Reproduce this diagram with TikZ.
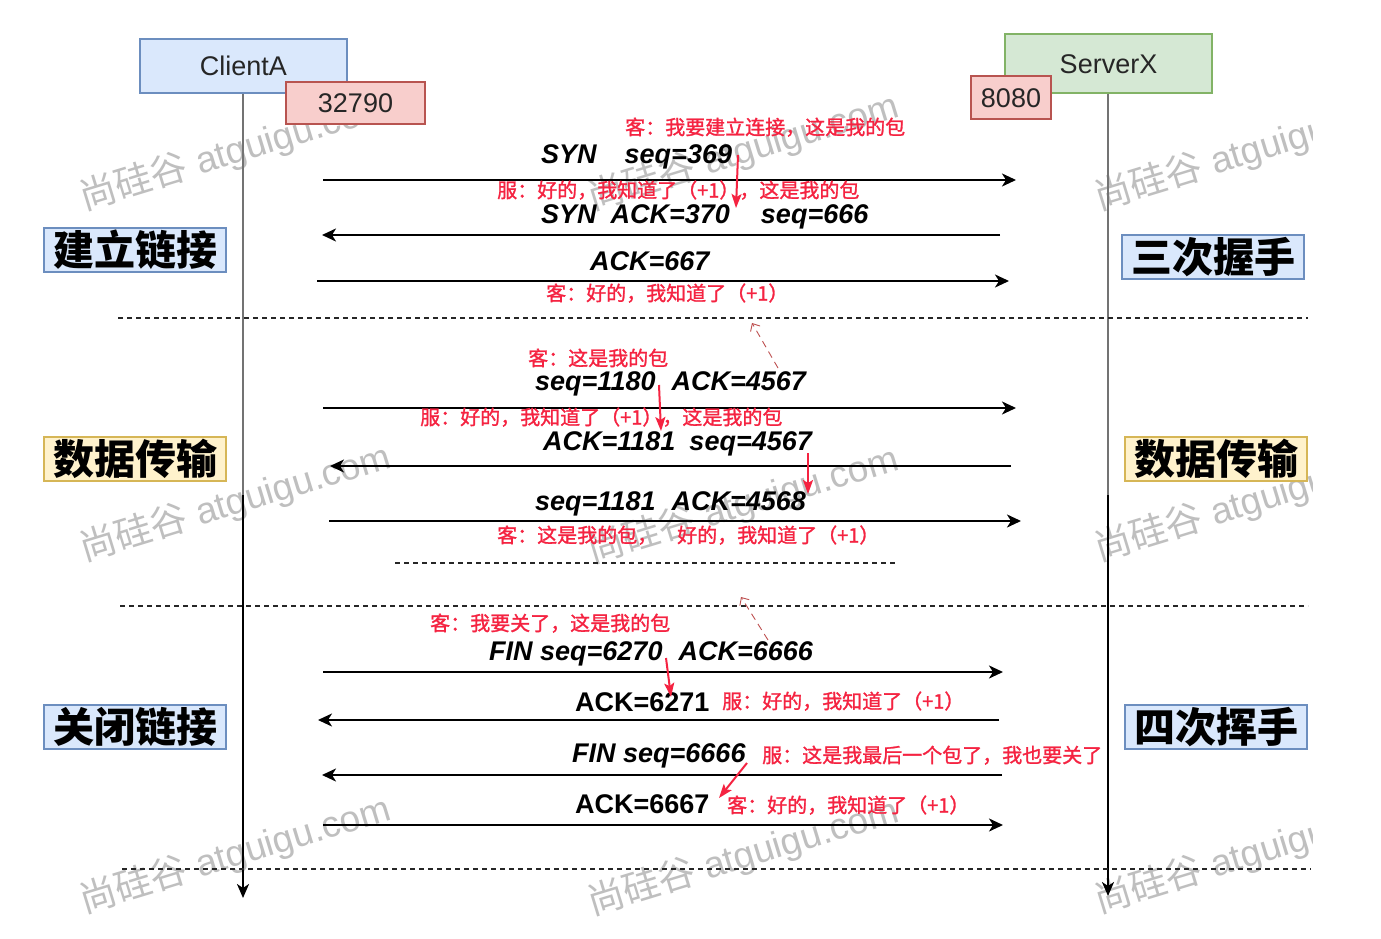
\documentclass[tikz,border=0pt]{standalone}
\usepackage{fontspec}
\setmainfont{Liberation Sans}
\newfontfamily\cjk{Noto Sans CJK SC}
\newfontfamily\cjkm[FakeBold=1.3]{Noto Sans CJK SC}
\usetikzlibrary{arrows.meta}
\definecolor{nred}{RGB}{245,35,65}
\definecolor{hred}{RGB}{190,80,80}
\definecolor{bfill}{HTML}{DAE8FC}
\definecolor{bdraw}{HTML}{6C8EBF}
\definecolor{gfill}{HTML}{D5E8D4}
\definecolor{gdraw}{HTML}{82B366}
\definecolor{rfill}{HTML}{F8CECC}
\definecolor{rdraw}{HTML}{B85450}
\definecolor{yfill}{HTML}{FFF2CC}
\definecolor{ydraw}{HTML}{D6B656}
\tikzset{
  hdr/.style={font=\fontsize{27}{30}\selectfont, text=black!85, inner sep=0pt, text height=19.5pt, text depth=0pt, line width=1.5pt},
  msg/.style={font=\fontsize{27}{30}\selectfont\bfseries\itshape, inner sep=0pt, anchor=west, text height=20pt, text depth=0pt},
  msgu/.style={font=\fontsize{27}{30}\selectfont\bfseries, inner sep=0pt, anchor=west, text height=20pt, text depth=0pt},
  note/.style={font=\cjkm\fontsize{20}{22}\selectfont, text=nred, inner sep=0pt, anchor=west, text height=17.6pt, text depth=2.4pt},
  lbl/.style={font=\cjk\bfseries\fontsize{41}{44}\selectfont, inner sep=0pt, minimum width=182pt, minimum height=44pt, text height=36pt, text depth=5pt, line width=1.5pt},
  arr/.style={line width=2pt, -{Stealth[length=14pt,width=13pt,inset=4pt]}},
  redarr/.style={draw=nred, fill=nred, line width=2pt, -{Stealth[length=14pt,width=10pt,inset=3pt]}},
  hint/.style={draw=hred, line width=0.9pt, dash pattern=on 7pt off 5pt, -{Straight Barb[length=6pt,width=11pt]}},
  sep/.style={line width=1.6pt, dash pattern=on 5pt off 4pt, draw=black!85},
  wm/.style={font=\fontsize{37}{40}\selectfont, text=black!25, inner sep=0pt, rotate=17},
  life/.style={line width=2.2pt}
}
\begin{document}
\begin{tikzpicture}[x=1pt,y=-1pt]
\useasboundingbox (0,0) rectangle (1381,939);
\fill[white] (0,0) rectangle (1381,939);

% watermarks
\node[wm] (w1) at (235,152) {{\cjk 尚硅谷} atguigu.com};
\node[wm] (w2) at (743,152) {{\cjk 尚硅谷} atguigu.com};
\node[wm] (w4) at (235,503) {{\cjk 尚硅谷} atguigu.com};
\node[wm] (w5) at (743,505) {{\cjk 尚硅谷} atguigu.com};
\node[wm] (w7) at (235,855) {{\cjk 尚硅谷} atguigu.com};
\node[wm] (w8) at (743,857) {{\cjk 尚硅谷} atguigu.com};
\begin{scope}
\clip (1000,0) rectangle (1312,939);
\node[wm] (w3) at (1250,152) {{\cjk 尚硅谷} atguigu.com};
\node[wm] (w6) at (1250,503) {{\cjk 尚硅谷} atguigu.com};
\node[wm] (w9) at (1250,855) {{\cjk 尚硅谷} atguigu.com};
\end{scope}

% headers
\node[hdr, fill=bfill, draw=bdraw, minimum width=207pt, minimum height=54pt] (cA) at (243.5,66) {ClientA};
\node[hdr, fill=rfill, draw=rdraw, minimum width=139pt, minimum height=42pt] (cP) at (355.5,103) {32790};
\node[hdr, fill=gfill, draw=gdraw, minimum width=207pt, minimum height=59pt] (sX) at (1108.5,63.5) {ServerX};
\node[hdr, fill=rfill, draw=rdraw, minimum width=80pt, minimum height=43pt] (sP) at (1011,97.5) {8080};

% lifelines
\coordinate (cmid) at (243,495);
\coordinate (cend) at (243,898);
\coordinate (smid) at (1108,495);
\coordinate (send) at (1108,896);
\draw[life, draw=black!55] (cA.south -| cmid) -- (cmid);
\draw[life, -{Stealth[length=14pt,width=12pt,inset=4pt]}] (cmid) -- (cend);
\draw[life, draw=black!55] (sX.south -| smid) -- (smid);
\draw[life, -{Stealth[length=14pt,width=12pt,inset=4pt]}] (smid) -- (send);

% separators
\coordinate (d1a) at (118,318); \coordinate (d1b) at (1308,318);
\coordinate (d2a) at (120,606); \coordinate (d2b) at (1308,606);
\coordinate (d3a) at (122,869); \coordinate (d3b) at (1311,869);
\coordinate (d4a) at (395,563); \coordinate (d4b) at (895,563);
\draw[sep] (d1a) -- (d1b);
\draw[sep] (d2a) -- (d2b);
\draw[sep] (d3a) -- (d3b);
\draw[sep] (d4a) -- (d4b);

% side labels
\node[lbl, fill=bfill, draw=bdraw] (L1) at (135,250) {建立链接};
\node[lbl, fill=bfill, draw=bdraw] (R1) at (1213,257) {三次握手};
\node[lbl, fill=yfill, draw=ydraw] (L2) at (135,459) {数据传输};
\node[lbl, fill=yfill, draw=ydraw] (R2) at (1216,459) {数据传输};
\node[lbl, fill=bfill, draw=bdraw] (L3) at (135,727) {关闭链接};
\node[lbl, fill=bfill, draw=bdraw] (R3) at (1216,727) {四次挥手};

% ---- section 1
\node[note] (n1) at (625,127) {客：我要建立连接，这是我的包};
\node[msg] (t1) at (541,153) {SYN\hspace{28pt}seq=369};
\coordinate (a1s) at (323,180); \coordinate (a1e) at (1016,180);
\draw[arr] (a1s) -- (a1e);
\node[note] (n2) at (497,190) {服：好的，我知道了（+1），这是我的包};
\node[msg] (t2) at (541,213) {SYN\hspace{14pt}ACK=370\hspace{31pt}seq=666};
\coordinate (a2s) at (1000,235); \coordinate (a2e) at (322,235);
\draw[arr] (a2s) -- (a2e);
\node[msg] (t3) at (590,260) {ACK=667};
\coordinate (a3s) at (317,281); \coordinate (a3e) at (1009,281);
\draw[arr] (a3s) -- (a3e);
\node[note] (n3) at (546,293) {客：好的，我知道了（+1）};
\coordinate (r1s) at (738,155); \coordinate (r1e) at (736,208);
\draw[redarr] (r1s) -- (r1e);
\coordinate (h1s) at (778,368); \coordinate (h1e) at (752,323);
\draw[hint] (h1s) -- (h1e);

% ---- section 2
\node[note] (n4) at (528,358) {客：这是我的包};
\node[msg] (t4) at (535,380) {seq=1180\hspace{16pt}ACK=4567};
\coordinate (a4s) at (323,408); \coordinate (a4e) at (1016,408);
\draw[arr] (a4s) -- (a4e);
\node[note] (n5) at (420,417) {服：好的，我知道了（+1），这是我的包};
\node[msg] (t5) at (543,440) {ACK=1181\hspace{14pt}seq=4567};
\coordinate (a5s) at (1011,466); \coordinate (a5e) at (330,466);
\draw[arr] (a5s) -- (a5e);
\node[msg] (t6) at (535,500) {seq=1181\hspace{16pt}ACK=4568};
\coordinate (a6s) at (329,521); \coordinate (a6e) at (1021,521);
\draw[arr] (a6s) -- (a6e);
\node[note] (n6) at (497,535) {客：这是我的包，\hspace{20pt}好的，我知道了（+1）};
\coordinate (r2s) at (659,385); \coordinate (r2e) at (661,431);
\draw[redarr] (r2s) -- (r2e);
\coordinate (r3s) at (808,453); \coordinate (r3e) at (808,494);
\draw[redarr] (r3s) -- (r3e);
\coordinate (h2s) at (768,640); \coordinate (h2e) at (741,597);
\draw[hint] (h2s) -- (h2e);

% ---- section 3
\node[note] (n7) at (430,623) {客：我要关了，这是我的包};
\node[msg] (t7) at (489,650) {FIN seq=6270\hspace{16pt}ACK=6666};
\coordinate (a7s) at (323,672); \coordinate (a7e) at (1003,672);
\draw[arr] (a7s) -- (a7e);
\node[msgu] (t8) at (575,701) {ACK=6271};
\node[note] (n8) at (722,701) {服：好的，我知道了（+1）};
\coordinate (a8s) at (999,720); \coordinate (a8e) at (318,720);
\draw[arr] (a8s) -- (a8e);
\node[msg] (t9) at (572,752) {FIN seq=6666};
\node[note] (n9) at (762,755) {服：这是我最后一个包了，我也要关了};
\coordinate (a9s) at (1002,775); \coordinate (a9e) at (322,775);
\draw[arr] (a9s) -- (a9e);
\node[msgu] (t10) at (575,803) {ACK=6667};
\node[note] (n10) at (727,805) {客：好的，我知道了（+1）};
\coordinate (a10s) at (323,825); \coordinate (a10e) at (1003,825);
\draw[arr] (a10s) -- (a10e);
\coordinate (r4s) at (666,658); \coordinate (r4e) at (671,697);
\draw[redarr] (r4s) -- (r4e);
\coordinate (r5s) at (747,763); \coordinate (r5e) at (719,798);
\draw[redarr] (r5s) -- (r5e);
\end{tikzpicture}
\end{document}
